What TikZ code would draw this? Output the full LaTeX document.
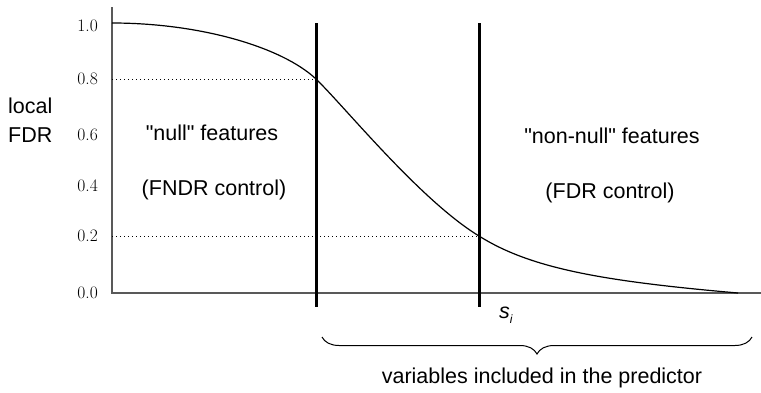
\documentclass[tikz,border=0pt]{standalone}
\usepackage{fontspec}
\newfontfamily\lsans{Liberation Sans}
\usetikzlibrary{decorations.pathreplacing}
\tikzset{
  axis/.style={draw=black!65, line width=1.5pt},
  bar/.style={draw=black, line width=3pt},
  guide/.style={draw=black, line width=0.9pt, dash pattern=on 0.9pt off 3.1pt},
  curve/.style={draw=black, line width=1.2pt},
  tick/.style={anchor=east, inner sep=0pt, font=\fontsize{17.5}{20}\selectfont},
  lab/.style={anchor=base, inner sep=0pt, font=\lsans\fontsize{21.5}{26}\selectfont},
}
\begin{document}
\begin{tikzpicture}[x=1pt,y=-1pt]
\useasboundingbox (0,0) rectangle (761,392);
% axes
\coordinate (ytop) at (112,7);
\coordinate (orig) at (112,293);
\coordinate (xend) at (761,293);
\draw[axis] (ytop) -- (orig) -- (xend);
% tick labels
\node[tick] (t10) at (98,26) {1.0};
\node[tick] (t08) at (98,79) {0.8};
\node[tick] (t06) at (98,135) {0.6};
\node[tick] (t04) at (98,186) {0.4};
\node[tick] (t02) at (98,236) {0.2};
\node[tick] (t00) at (98,293) {0.0};
% axis title
\node[lab, anchor=base west] (loc) at (8,113) {local};
\node[lab, anchor=base west] (fdr) at (8,142) {FDR};
% dotted guides
\coordinate (g8a) at (112,79);
\coordinate (g8b) at (316,79);
\coordinate (g2a) at (112,236);
\coordinate (g2b) at (479,236);
\draw[guide] (g8a) -- (g8b);
\draw[guide] (g2a) -- (g2b);
% curve
\coordinate (c0) at (112,23);
\coordinate (c1) at (316,79);
\coordinate (c2) at (479,236);
\coordinate (c4) at (738,293);
\draw[curve] (c0) .. controls (200,23) and (282,47) .. (c1)
  .. controls (345,107) and (420,200) .. (c2)
  .. controls (530,268) and (600,281) .. (c4);
% thresholds
\coordinate (b1t) at (316,23);
\coordinate (b1b) at (316,307);
\coordinate (b2t) at (479,23);
\coordinate (b2b) at (479,307);
\draw[bar] (b1t) -- (b1b);
\draw[bar] (b2t) -- (b2b);
% region labels
\node[lab] (nl1) at (212,140) {"null" features};
\node[lab] (nl2) at (214,195) {(FNDR control)};
\node[lab] (nn1) at (612,143) {"non-null" features};
\node[lab] (nn2) at (610,198) {(FDR control)};
% s_i
\node[lab, anchor=base west] (si) at (499,318) {\itshape s\raisebox{-0.45ex}{\fontsize{12}{12}\selectfont i}};
% brace
\coordinate (brl) at (322,337);
\coordinate (brr) at (752,337);
\draw[draw=black, line width=1pt, decorate, decoration={brace, amplitude=17pt}] (brr) -- (brl);
\node[lab] (vip) at (542,383) {variables included in the predictor};
\end{tikzpicture}
\end{document}
